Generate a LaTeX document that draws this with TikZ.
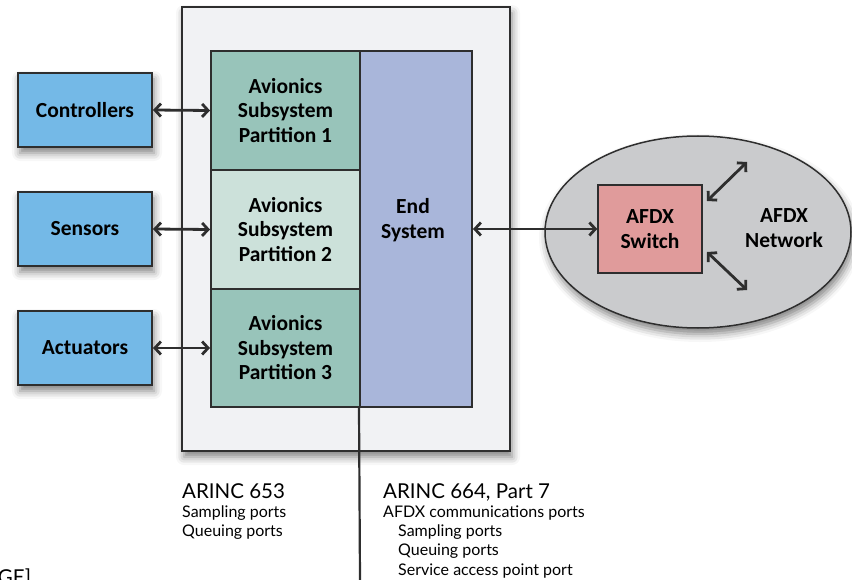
\documentclass[tikz,border=0pt]{standalone}
\usepackage{fontspec}
\setmainfont{Lato}
\newfontfamily\boxfont{Carlito}
\usetikzlibrary{arrows.meta,shapes.geometric,shadows.blur}

\definecolor{framefill}{HTML}{F1F2F4}
\definecolor{edge}{HTML}{2E2E2E}
\definecolor{partdark}{HTML}{98C4BA}
\definecolor{partlight}{HTML}{CCE1DA}
\definecolor{endsys}{HTML}{A9B6DA}
\definecolor{device}{HTML}{74B9E7}
\definecolor{netgray}{HTML}{CACBCD}
\definecolor{switchred}{HTML}{E09B9B}

\tikzset{
  softshadow/.style={blur shadow={shadow xshift=2pt,shadow yshift=-6pt,shadow blur radius=8pt,shadow opacity=50}},
  boxlabel/.style={font=\boxfont\bfseries\fontsize{21.5}{24.5}\selectfont,align=center,text=black},
  frame/.style={draw=edge,line width=2pt,fill=framefill,softshadow},
  devbox/.style={rectangle,draw=edge,line width=2pt,fill=device,softshadow,boxlabel,
    minimum width=134pt,minimum height=74pt,inner sep=0pt},
  partbox/.style={rectangle,draw=edge,line width=2pt,boxlabel,
    minimum width=149pt,inner sep=0pt},
  link/.style={line width=2.8pt,draw=edge,{Straight Barb[length=6pt,width=13pt,line width=2.8pt]}-{Straight Barb[length=6pt,width=13pt,line width=2.8pt]}},
  heading/.style={anchor=base west,font=\fontsize{20.5}{22}\selectfont,inner sep=0pt},
  smalltext/.style={anchor=base west,font=\fontsize{16}{19}\selectfont,inner sep=0pt},
}

\begin{document}
\begin{tikzpicture}[x=1pt,y=-1pt]
\useasboundingbox (0,0) rectangle (852,580);

% enclosing module
\node[frame,rectangle,minimum width=328pt,minimum height=444pt,inner sep=0pt] (module) at (346,229) {};

% external devices
\node[devbox] (ctrl) at (85,110) {Controllers};
\node[devbox] (sens) at (85,229) {Sensors};
\node[devbox] (act)  at (85,348) {Actuators};

% AFDX network cloud
\node[ellipse,draw=edge,line width=1.5pt,fill=netgray,softshadow,
  minimum width=306pt,minimum height=192pt,inner sep=0pt] (net) at (698,232) {};

% partitions and end system
\node[partbox,fill=partdark,minimum height=119pt] (p1) at (285.5,110.5) {Avionics\\Subsystem\\Partition 1};
\node[partbox,fill=partlight,minimum height=119pt] (p2) at (285.5,229.5) {Avionics\\Subsystem\\Partition 2};
\node[partbox,fill=partdark,minimum height=118pt] (p3) at (285.5,348) {Avionics\\Subsystem\\Partition 3};
\node[rectangle,draw=edge,line width=2pt,fill=endsys,boxlabel,
  minimum width=112pt,minimum height=356pt,inner sep=0pt] (es) at (416,229) {};
\node[boxlabel] (eslabel) at (413,220) {End\\System};

% switch
\node[rectangle,draw=edge,line width=1.5pt,fill=switchred,boxlabel,
  minimum width=104pt,minimum height=88pt,inner sep=0pt] (sw) at (650,229) {AFDX\\Switch};
\node[boxlabel] (netlabel) at (784,228) {AFDX\\Network};

% port line running down from the end system
\coordinate (portend) at (360,580);
\draw[edge,line width=2.2pt] (es.south west) -- (portend);

% connectors
\draw[link] (ctrl.east) -- (p1.west);
\draw[link] (sens.east) -- (p2.west);
\draw[link] (act.east) -- (p3.west);
\draw[link] (es.east |- sw.west) -- (sw.west);

\coordinate (upA) at (707,201);
\coordinate (upB) at (747,162);
\coordinate (loA) at (707,252);
\coordinate (loB) at (747,290);
\draw[link] (upA) -- (upB);
\draw[link] (loA) -- (loB);

% interface notes
\node[heading] (arinc653) at (182,498) {ARINC 653};
\node[smalltext] (a653s) at (182,517) {Sampling ports};
\node[smalltext] (a653q) at (182,536) {Queuing ports};

\node[heading] (arinc664) at (383,498) {ARINC 664, Part 7};
\node[smalltext] (a664c) at (383,517) {AFDX communications ports};
\node[smalltext] (a664s) at (398,536) {Sampling ports};
\node[smalltext] (a664q) at (398,555) {Queuing ports};
\node[smalltext] (a664p) at (398,575) {Service access point port};

% source tag
\node[heading] (src) at (-8,584) {[GE]};
\end{tikzpicture}
\end{document}
